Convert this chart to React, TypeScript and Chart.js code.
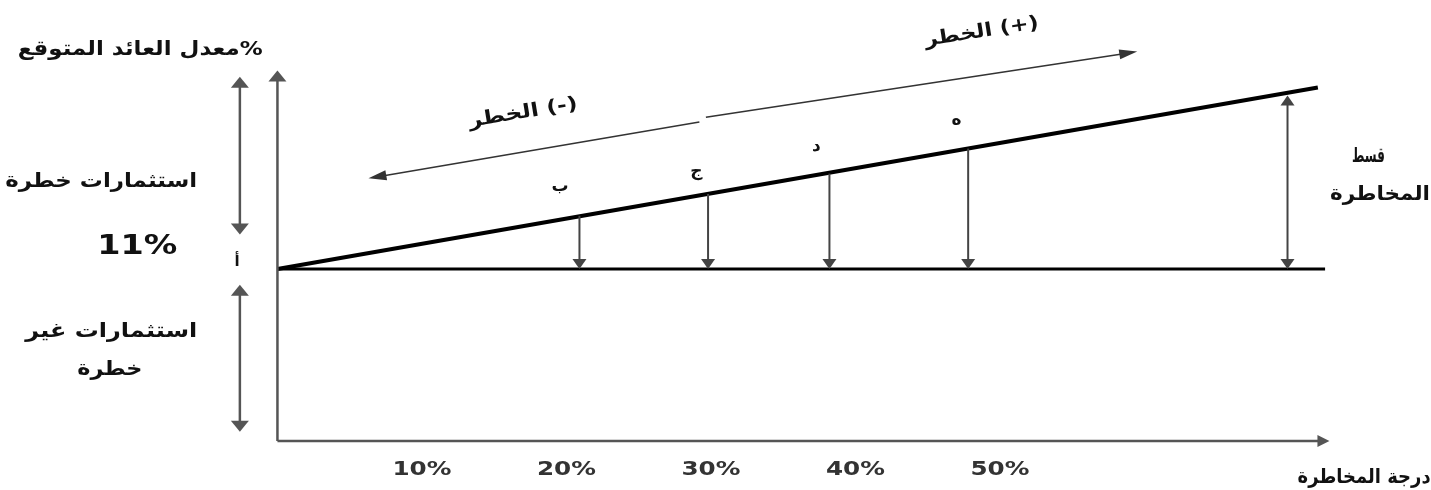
import React, { useEffect, useRef } from "react";
import { Chart, registerables } from "chart.js";

Chart.register(...registerables);

// ---- data (risk degree %, expected return %) ----
const riskFreeRate = 11;
const smlRisk = [0, 72];
const smlReturn = [11, 22.6];
const baselineRisk = [0, 72.5];

const pointLabels = ["ب", "ج", "د", "ه"];
const pointRisk = [20.9, 29.8, 38.2, 47.8];
const pointReturn = [14.4, 15.8, 17.1, 18.7];

const premiumRisk = 69.9;
const premiumReturn = 22.1;

const xTicks = [10, 20, 30, 40, 50];
const xTickLabels = ["10%", "20%", "30%", "40%", "50%"];

const W = 1431;
const H = 490;

type Txt = {
  t: string;
  x: number;
  y: number;
  size: number;
  w?: number;
  rot?: number;
  rtl?: boolean;
  color?: string;
};

const AR = '"DejaVu Sans", "Liberation Sans", sans-serif';

const texts: Txt[] = [
  { t: "%معدل العائد المتوقع", x: -9.5, y: 25.0, size: 20, w: 245, rtl: true },
  { t: "استثمارات خطرة", x: -12.2, y: 16.56, size: 20, w: 192, rtl: true },
  { t: "11%", x: -9.7, y: 12.4, size: 27, w: 80 },
  { t: "أ", x: -2.8, y: 11.45, size: 15, rtl: true },
  { t: "استثمارات غير", x: -11.5, y: 6.97, size: 20, w: 172, rtl: true },
  { t: "خطرة", x: -11.6, y: 4.54, size: 20, w: 65, rtl: true },
  { t: "(-) الخطر", x: 17.0, y: 20.97, size: 19, w: 110, rot: -0.165, rtl: true },
  { t: "(+) الخطر", x: 48.75, y: 26.15, size: 19, w: 115, rot: -0.155, rtl: true },
  { t: "قسط", x: 75.5, y: 18.16, size: 20, w: 33, rtl: true },
  { t: "المخاطرة", x: 76.3, y: 15.73, size: 20, w: 100, rtl: true },
  { t: "درجة المخاطرة", x: 75.2, y: -2.37, size: 20, w: 133, rtl: true },
];

function drawText(ctx: CanvasRenderingContext2D, s: Txt, px: number, py: number) {
  ctx.save();
  ctx.font = `bold ${s.size}px ${AR}`;
  ctx.fillStyle = s.color || "#111";
  ctx.textAlign = "center";
  ctx.textBaseline = "middle";
  (ctx as any).direction = s.rtl ? "rtl" : "ltr";
  ctx.translate(px, py);
  if (s.rot) ctx.rotate(s.rot);
  if (s.w) {
    const m = ctx.measureText(s.t).width;
    if (m > 0) ctx.scale(s.w / m, 1);
  }
  ctx.fillText(s.t, 0, 0);
  ctx.restore();
}

function arrowHead(
  ctx: CanvasRenderingContext2D,
  x1: number,
  y1: number,
  x2: number,
  y2: number,
  len: number,
  half: number
) {
  const a = Math.atan2(y2 - y1, x2 - x1);
  ctx.beginPath();
  ctx.moveTo(x2, y2);
  ctx.lineTo(x2 - len * Math.cos(a) + half * Math.sin(a), y2 - len * Math.sin(a) - half * Math.cos(a));
  ctx.lineTo(x2 - len * Math.cos(a) - half * Math.sin(a), y2 - len * Math.sin(a) + half * Math.cos(a));
  ctx.closePath();
  ctx.fill();
}

function arrow(
  ctx: CanvasRenderingContext2D,
  x1: number,
  y1: number,
  x2: number,
  y2: number,
  opts: { width: number; color: string; len: number; half: number; both?: boolean }
) {
  ctx.save();
  ctx.strokeStyle = opts.color;
  ctx.fillStyle = opts.color;
  ctx.lineWidth = opts.width;
  const a = Math.atan2(y2 - y1, x2 - x1);
  const ex = x2 - (opts.len - 1) * Math.cos(a);
  const ey = y2 - (opts.len - 1) * Math.sin(a);
  const sx = opts.both ? x1 + (opts.len - 1) * Math.cos(a) : x1;
  const sy = opts.both ? y1 + (opts.len - 1) * Math.sin(a) : y1;
  ctx.beginPath();
  ctx.moveTo(sx, sy);
  ctx.lineTo(ex, ey);
  ctx.stroke();
  arrowHead(ctx, x1, y1, x2, y2, opts.len, opts.half);
  if (opts.both) arrowHead(ctx, x2, y2, x1, y1, opts.len, opts.half);
  ctx.restore();
}

const diagramPlugin = {
  id: "diagram",
  afterDatasetsDraw(chart: any) {
    const ctx: CanvasRenderingContext2D = chart.ctx;
    const xs = chart.scales.x;
    const ys = chart.scales.y;
    const X = (v: number) => xs.getPixelForValue(v);
    const Y = (v: number) => ys.getPixelForValue(v);

    const axis = { width: 2.5, color: "#555", len: 11, half: 9 };
    // axes
    arrow(ctx, X(0), Y(0), X(0), Y(23.7), axis);
    arrow(ctx, X(0), Y(0), X(72.8), Y(0), { ...axis, len: 12, half: 6 });

    // left double arrows
    arrow(ctx, X(-2.6), Y(13.2), X(-2.6), Y(23.3), { ...axis, both: true });
    arrow(ctx, X(-2.6), Y(0.6), X(-2.6), Y(10.0), { ...axis, both: true });

    // drop arrows from the line to the risk-free rate
    const drop = { width: 2, color: "#444", len: 10, half: 7 };
    for (let i = 0; i < pointRisk.length; i++) {
      arrow(ctx, X(pointRisk[i]), Y(pointReturn[i]), X(pointRisk[i]), Y(riskFreeRate), drop);
    }
    // risk premium arrow
    arrow(ctx, X(premiumRisk), Y(riskFreeRate), X(premiumRisk), Y(premiumReturn), { ...drop, both: true });

    // direction of risk arrows
    const thin = { width: 1.6, color: "#333", len: 18, half: 5 };
    arrow(ctx, X(29.2), Y(20.4), X(6.3), Y(16.8), thin);
    arrow(ctx, X(29.65), Y(20.7), X(59.5), Y(24.9), thin);

    // point labels
    const labelPos = [
      [19.55, 16.24],
      [29.0, 17.2],
      [37.3, 18.8],
      [47.0, 20.46],
    ];
    pointLabels.forEach((l, i) => {
      drawText(ctx, { t: l, x: 0, y: 0, size: 17, rtl: true }, X(labelPos[i][0]), Y(labelPos[i][1]));
    });

    // texts
    texts.forEach((s) => drawText(ctx, s, X(s.x), Y(s.y)));

    // x tick labels
    xTicks.forEach((v, i) => {
      drawText(
        ctx,
        { t: xTickLabels[i], x: 0, y: 0, size: 20, w: 59, color: "#333" },
        X(v),
        Y(-1.85)
      );
    });
  },
};

export default function App() {
  const ref = useRef<HTMLCanvasElement | null>(null);
  useEffect(() => {
    if (!ref.current) return;
    const chart = new Chart(ref.current, {
      type: "scatter",
      data: {
        datasets: [
          {
            label: "SML",
            data: smlRisk.map((r, i) => ({ x: r, y: smlReturn[i] })),
            showLine: true,
            borderColor: "#000",
            borderWidth: 4,
            pointRadius: 0,
          },
          {
            label: "Rf",
            data: baselineRisk.map((r) => ({ x: r, y: riskFreeRate })),
            showLine: true,
            borderColor: "#000",
            borderWidth: 3,
            pointRadius: 0,
          },
        ],
      },
      options: {
        responsive: false,
        animation: false,
        devicePixelRatio: 1,
        layout: { padding: 0 },
        plugins: { legend: { display: false }, tooltip: { enabled: false } },
        scales: {
          x: { type: "linear", min: -19.2, max: 79.83, display: false },
          y: { type: "linear", min: -3.13, max: 28.2, display: false },
        },
      },
      plugins: [diagramPlugin],
    });
    return () => chart.destroy();
  }, []);
  return (
    <div style={{ position: "fixed", left: 0, top: 0, width: W, height: H, background: "#fff" }}>
      <canvas ref={ref} width={W} height={H} style={{ display: "block" }} />
    </div>
  );
}
